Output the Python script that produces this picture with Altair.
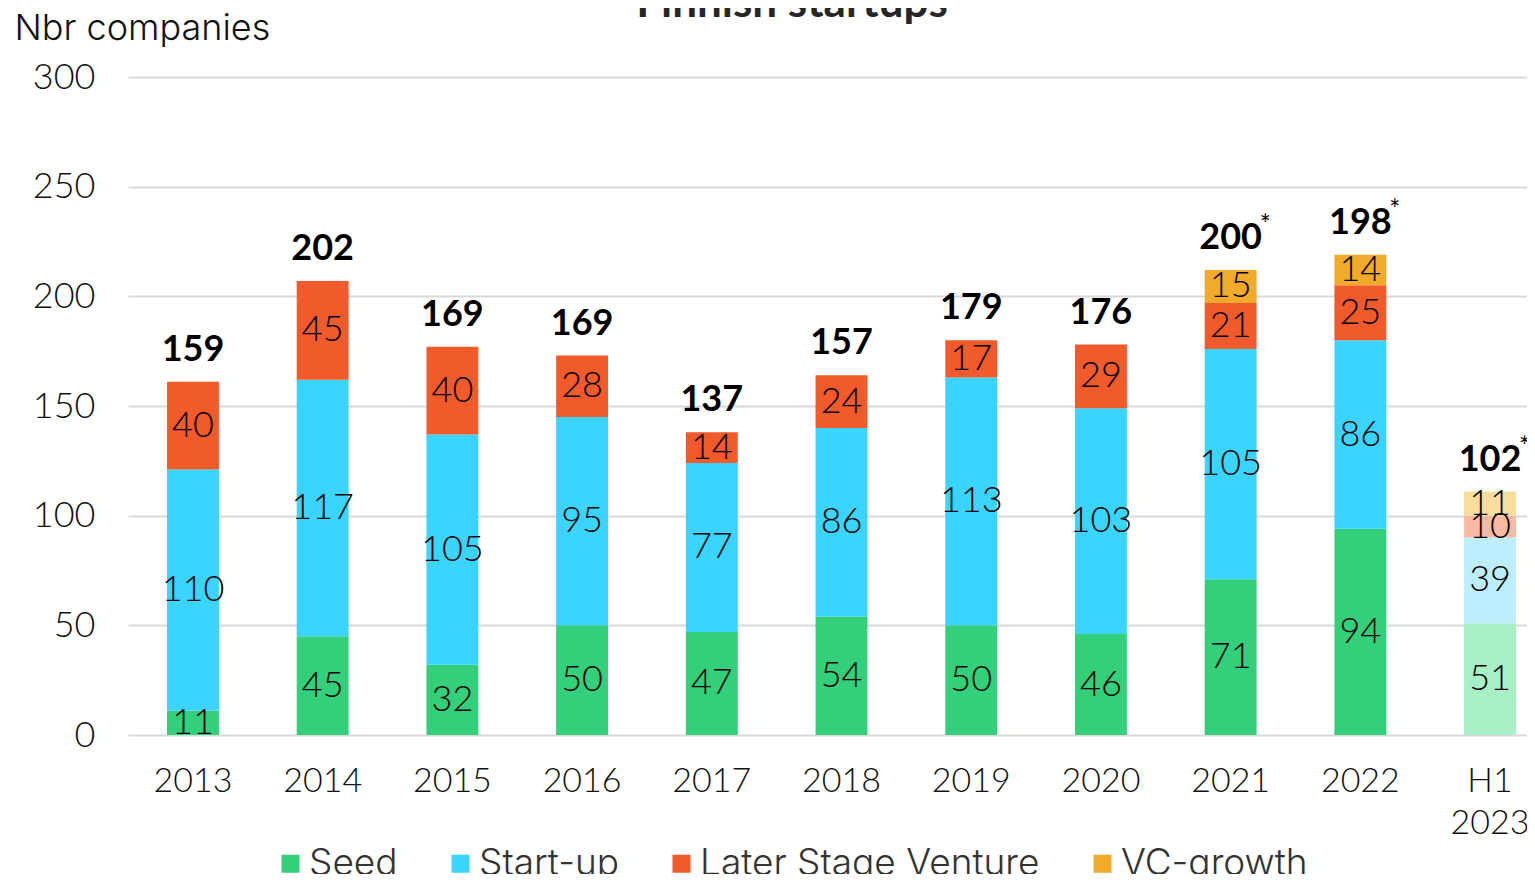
import altair as alt
import pandas as pd

years = ["2013", "2014", "2015", "2016", "2017", "2018", "2019", "2020", "2021", "2022", "H1 2023"]
series = ["Seed", "Start-up", "Later Stage Venture", "VC-growth"]
seed = [11, 45, 32, 50, 47, 54, 50, 46, 71, 94, 51]
startup = [110, 117, 105, 95, 77, 86, 113, 103, 105, 86, 39]
later = [40, 45, 40, 28, 14, 24, 17, 29, 21, 25, 10]
vcgrowth = [0, 0, 0, 0, 0, 0, 0, 0, 15, 14, 11]
totals = [159, 202, 169, 169, 137, 157, 179, 176, 200, 198, 102]
starred = [False, False, False, False, False, False, False, False, True, True, True]
title_text = ["Finnish startups"]

colors = ["#33CF7A", "#3AD4FF", "#F15A2B", "#F2AA2B"]
pale_colors = ["#A7F0C6", "#BDEEFD", "#F8B9A2", "#F8DE9C"]

FONT = "Lato"
TFONT = "Inter"

rows = []
for i, y in enumerate(years):
    for j, (s, vals) in enumerate(zip(series, [seed, startup, later, vcgrowth])):
        key = s if not y.startswith("H1") else s + " (H1)"
        rows.append({"year": y, "series": s, "value": vals[i], "order": j, "key": key})
df = pd.DataFrame(rows)

tot_df = pd.DataFrame({
    "year": years,
    "label": [str(t) for t in totals],
    "height": [a + b + c + d for a, b, c, d in zip(seed, startup, later, vcgrowth)],
    "star": ["*" if s else "" for s in starred],
})

x_enc = alt.X(
    "year:N",
    sort=years,
    scale=alt.Scale(paddingInner=0.6, paddingOuter=0.1928, align=0.78),
    axis=alt.Axis(
        title=None, labelAngle=0, domain=False, ticks=False, grid=False,
        labelFontSize=34, labelColor="#111111", labelPadding=29,
        labelFont=FONT, labelFontWeight=300,
        labelExpr="split(datum.value, ' ')", labelLineHeight=42,
    ),
)

y_scale = alt.Scale(domain=[0, 300], nice=False)

key_domain = series + [s + " (H1)" for s in series]
color_enc = alt.Color(
    "key:N",
    scale=alt.Scale(domain=key_domain, range=colors + pale_colors),
    legend=alt.Legend(
        title=None, values=series, orient="none", direction="horizontal",
        legendX=144, legendY=768, symbolType="square", symbolSize=324,
        symbolStrokeWidth=0, labelFontSize=37, labelColor="#333333",
        labelOffset=0, columnPadding=44, labelFont=TFONT, labelFontWeight=300,
        labelLimit=0,
    ),
)

base = (
    alt.Chart(df)
    .transform_filter("datum.value > 0")
    .transform_stack(
        stack="value", groupby=["year"],
        sort=[alt.SortField("order", order="ascending")], as_=["y0", "y1"],
    )
    .transform_calculate(mid="(datum.y0 + datum.y1) / 2")
)

bars = base.mark_bar().encode(
    x=x_enc,
    y=alt.Y(
        "y0:Q", scale=y_scale,
        axis=alt.Axis(
            values=[0, 50, 100, 150, 200, 250, 300], domain=False, ticks=False,
            grid=True, gridColor="#D9D9D9", gridWidth=2, labelFontSize=36,
            labelColor="#111111", labelPadding=33, labelFont=FONT, labelFontWeight=300,
            title="Nbr companies", titleAngle=0, titleAlign="left",
            titleBaseline="alphabetic", titleX=-114, titleY=-38, titleFont=TFONT,
            titleFontSize=36, titleFontWeight=300, titleColor="#111111",
        ),
    ),
    y2="y1:Q",
    color=color_enc,
)

seg_labels = base.mark_text(
    fontSize=36, color="#000000", baseline="middle", font=FONT, fontWeight=300
).encode(
    x=alt.X("year:N", sort=years),
    y=alt.Y("mid:Q", scale=y_scale),
    text="value:Q",
)

tot_labels = alt.Chart(tot_df).mark_text(
    fontSize=36, fontWeight="bold", color="#000000", baseline="alphabetic", dy=-21, font=FONT
).encode(
    x=alt.X("year:N", sort=years),
    y=alt.Y("height:Q", scale=y_scale),
    text="label:N",
)

star_labels = alt.Chart(tot_df).mark_text(
    fontSize=26, color="#000000", baseline="alphabetic", align="left", dx=29, dy=-36, font=FONT
).encode(
    x=alt.X("year:N", sort=years),
    y=alt.Y("height:Q", scale=y_scale),
    text="star:N",
)

title = alt.Chart(pd.DataFrame({"t": title_text})).mark_text(
    fontSize=44, fontWeight="bold", color="#262626", baseline="alphabetic", align="center", font=FONT
).encode(
    x=alt.value(664), y=alt.value(-60), text="t:N"
)

chart = (
    alt.layer(bars, seg_labels, tot_labels, star_labels, title)
    .properties(
        width=1399, height=658,
        padding={"left": 120, "top": 69, "right": 0, "bottom": 139},
        autosize=alt.AutoSizeParams(type="none"),
    )
    .configure(font=FONT)
    .configure_view(stroke=None)
)

chart.save("out.html", embed_options={"renderer": "svg", "actions": False})
